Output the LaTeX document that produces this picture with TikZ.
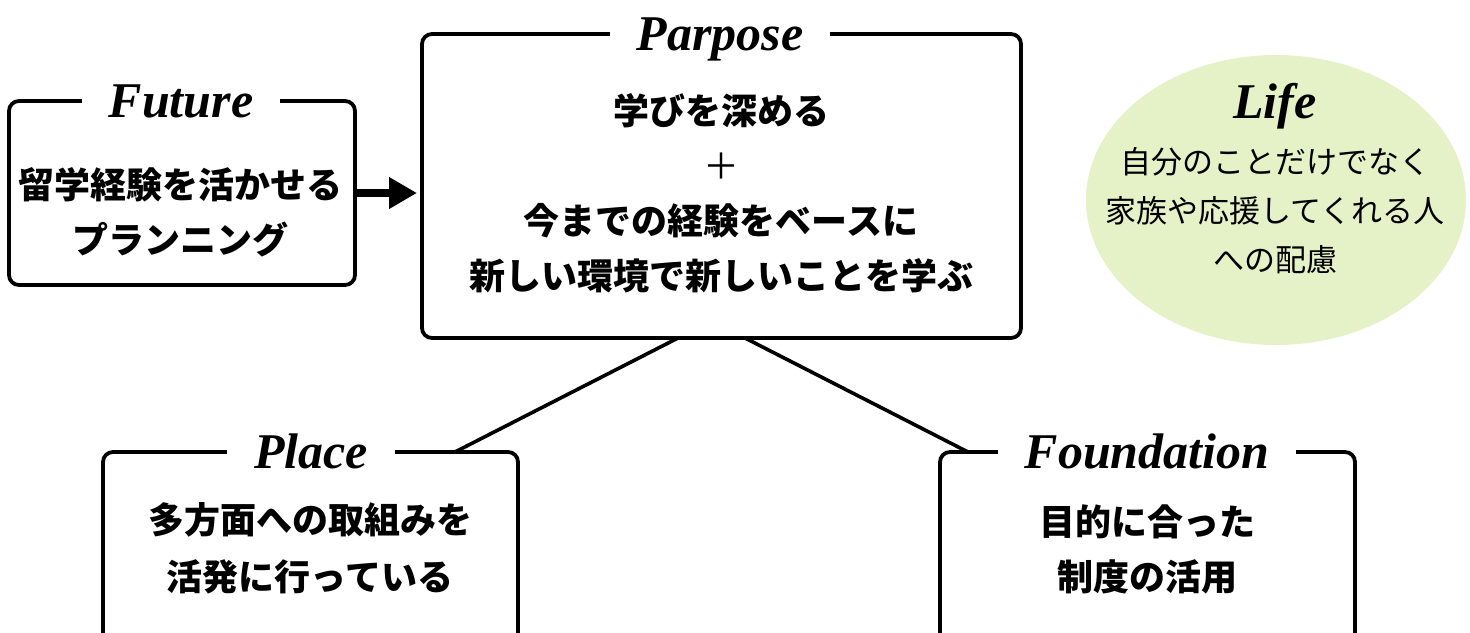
\documentclass[tikz,border=0pt]{standalone}
\usepackage{fontspec}
\setmainfont{Liberation Serif}
\newfontfamily\jp{Noto Sans CJK JP}
\usetikzlibrary{arrows.meta,calc,shapes.geometric}
\definecolor{lifegreen}{RGB}{229,241,198}
\begin{document}
\begin{tikzpicture}[x=1pt,y=-1pt,
  frame/.style={draw, line width=3.8pt, rounded corners=10pt, outer sep=0pt, inner sep=0pt},
  ttl/.style={fill=white, anchor=base, inner xsep=27pt, inner ysep=2pt,
    font=\fontsize{50}{54}\selectfont\bfseries\itshape},
  jtext/.style={align=center, font=\jp\bfseries\fontsize{36}{55}\selectfont},
  conn/.style={line width=3.6pt}]
\useasboundingbox (0,0) rectangle (1470,632);
\clip (0,0) rectangle (1470,632);

% Life ellipse
\node[ellipse, fill=lifegreen, minimum width=380pt, minimum height=290pt, inner sep=0pt] (life) at (1276,200) {};
\node[anchor=base, font=\fontsize{50}{54}\selectfont\bfseries\itshape] (lifet) at (1275,118) {Life};
\node[align=center, font=\jp\fontsize{31}{49}\selectfont] (lifetx) at (1275,211)
  {自分のことだけでなく\\家族や応援してくれる人\\への配慮};

% Boxes
\node[frame, minimum width=346pt, minimum height=184pt] (future) at (182,193) {};
\node[frame, minimum width=599pt, minimum height=304pt] (parpose) at (721.5,186) {};
\node[frame, minimum width=415pt, minimum height=248pt] (place) at (310.5,576) {};
\node[frame, minimum width=415pt, minimum height=248pt] (found) at (1147.5,576) {};

% Titles
\node[ttl] (futuret) at (181,117) {Future};
\node[ttl] (parposet) at (720,50) {Parpose};
\node[ttl] (placet) at (311,468) {Place};
\node[ttl] (foundt) at (1147,468) {Foundation};

% Texts
\node[jtext] (futuretx) at (181,212.5) {留学経験を活かせる\\プランニング};
\node[jtext] (parposetx) at (721,193) {学びを深める\\{\mdseries ＋}\\今までの経験をベースに\\新しい環境で新しいことを学ぶ};
\node[jtext, font=\jp\bfseries\fontsize{36}{57}\selectfont] (placetx) at (310,548.5) {多方面への取組みを\\活発に行っている};
\node[jtext] (foundtx) at (1147,549.5) {目的に合った\\制度の活用};

% Connectors
\draw[line width=8pt, -{Triangle[length=28pt,width=30pt]}, shorten >=5pt] (future.east) -- (parpose.west |- future.east);
\draw[conn] ($(parpose.south west)+(256,0)$) -- ($(place.north west)+(352,0)$);
\draw[conn] ($(parpose.south west)+(323,0)$) -- ($(found.north west)+(28,0)$);
\end{tikzpicture}
\end{document}
